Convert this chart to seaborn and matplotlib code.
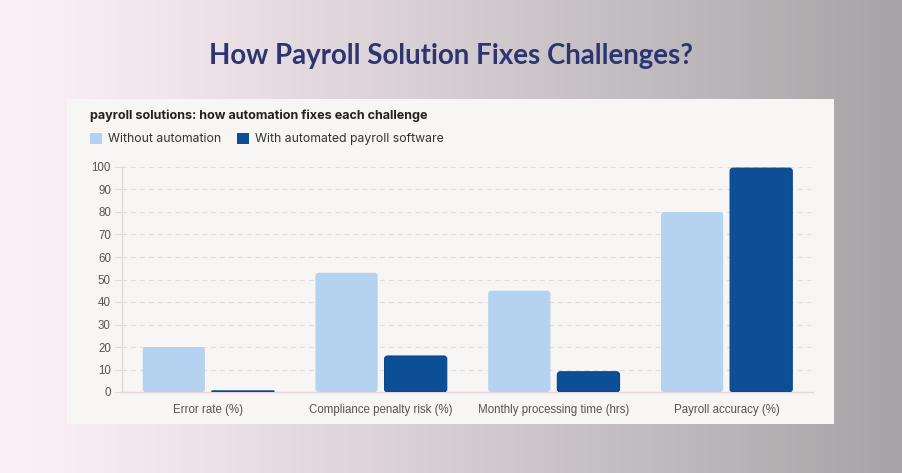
import numpy as np
import pandas as pd
import matplotlib
matplotlib.use("Agg")
import matplotlib.pyplot as plt
from matplotlib.patches import Rectangle, FancyBboxPatch, Patch
import seaborn as sns

categories = ["Error rate (%)", "Compliance penalty risk (%)",
              "Monthly processing time (hrs)", "Payroll accuracy (%)"]
without_auto = [20, 53, 45, 80]
with_auto = [0.5, 16, 9, 99.5]
series_names = ["Without automation", "With automated payroll software"]
y_ticks = list(range(0, 101, 10))

df = pd.DataFrame({
    "category": categories * 2,
    "value": without_auto + with_auto,
    "series": [series_names[0]] * 4 + [series_names[1]] * 4,
})

sns.set_theme(style="white")
plt.rcParams["font.family"] = ["Liberation Sans", "DejaVu Sans"]

W, H = 902, 473
fig = plt.figure(figsize=(W / 100, H / 100), dpi=100)

# background gradient
bg = fig.add_axes([0, 0, 1, 1])
bg.set_axis_off()
left = np.array([253, 241, 248]) / 255
right = np.array([166, 164, 166]) / 255
t = np.linspace(0, 1, 400)
t2 = t ** 1.1
grad = left[None, :] * (1 - t2[:, None]) + right[None, :] * t2[:, None]
img = np.tile(grad[None, :, :], (10, 1, 1))
bg.imshow(img, aspect="auto", extent=[0, 1, 0, 1], zorder=0)
bg.set_xlim(0, 1)
bg.set_ylim(0, 1)

# white panel
px0, py0, px1, py1 = 67, 99, 834, 424
bg.add_patch(Rectangle((px0 / W, 1 - py1 / H), (px1 - px0) / W, (py1 - py0) / H,
                       facecolor="#f7f6f5", edgecolor="none", zorder=1))

fig.text(0.5, 1 - 56 / H, "How Payroll Solution Fixes Challenges?",
         ha="center", va="center", fontsize=19.9, fontweight="bold",
         color="#2c3572", family=["Lato", "DejaVu Sans"])
fig.text(90 / W, 1 - 116 / H, "payroll solutions: how automation fixes each challenge",
         ha="left", va="center", fontsize=9.1, fontweight="bold",
         color="#222222", family=["Inter", "DejaVu Sans"])

ax0x, ax0y, ax1x, ax1y = 122, 392, 813, 167
ax = fig.add_axes([ax0x / W, 1 - ax0y / H, (ax1x - ax0x) / W, (ax0y - ax1y) / H])
ax.set_facecolor("none")

light = "#b5d2f0"
dark = "#0c4f96"
sns.barplot(data=df, x="category", y="value", hue="series", order=categories,
            hue_order=series_names, palette=[light, dark], width=0.8, gap=0.1,
            ax=ax, saturation=1, legend=False)

ax.set_xlim(-0.5, 3.5)
ax.set_ylim(0, 100)
ax.set_yticks(y_ticks)
ax.set_xlabel("")
ax.set_ylabel("")

# rounded bars
xpp = 4 / (ax1x - ax0x)
ypp = 100 / (ax0y - ax1y)
aspect = ypp / xpp
bars = [p for p in ax.patches if isinstance(p, Rectangle)]
for p in bars:
    x, y = p.get_x(), p.get_y()
    w, h = p.get_width(), p.get_height()
    fc = p.get_facecolor()
    r = min(3 * xpp, (h / aspect) / 2 * 0.99)
    ec = "#0a4585" if np.allclose(fc[:3], matplotlib.colors.to_rgb(dark)) else "none"
    fb = FancyBboxPatch((x, y), w, h, boxstyle=f"round,pad=0,rounding_size={r}",
                        mutation_aspect=aspect, facecolor=fc, edgecolor=ec,
                        linewidth=0.8, zorder=3)
    p.set_visible(False)
    ax.add_patch(fb)

ax.grid(axis="y", color="#dedcdc", linestyle=(0, (4, 4)), linewidth=0.8, zorder=0)
ax.set_axisbelow(True)
for s in ["top", "right"]:
    ax.spines[s].set_visible(False)
ax.spines["left"].set_color("#e3d6db")
ax.spines["bottom"].set_color("#e3d6db")
ax.spines["left"].set_linewidth(1)
ax.spines["bottom"].set_linewidth(1)
ax.tick_params(axis="y", length=5, width=0.8, color="#e3d6db", labelsize=8.3,
               labelcolor="#555555", pad=3, left=True)
ax.tick_params(axis="x", length=0, labelsize=8.3, labelcolor="#555555", pad=9)

handles = [Patch(facecolor=light, edgecolor="none"),
           Patch(facecolor=dark, edgecolor="none")]
leg = fig.legend(handles, series_names, loc="center left",
                 bbox_to_anchor=(79 / W, 1 - 139 / H), ncol=2, frameon=False,
                 handlelength=1.0, handleheight=1.0, handletextpad=0.5,
                 columnspacing=1.25, fontsize=8.8)
for txt in leg.get_texts():
    txt.set_color("#333333")
    txt.set_family(["Inter", "DejaVu Sans"])

fig.savefig("out.png", dpi=100)
